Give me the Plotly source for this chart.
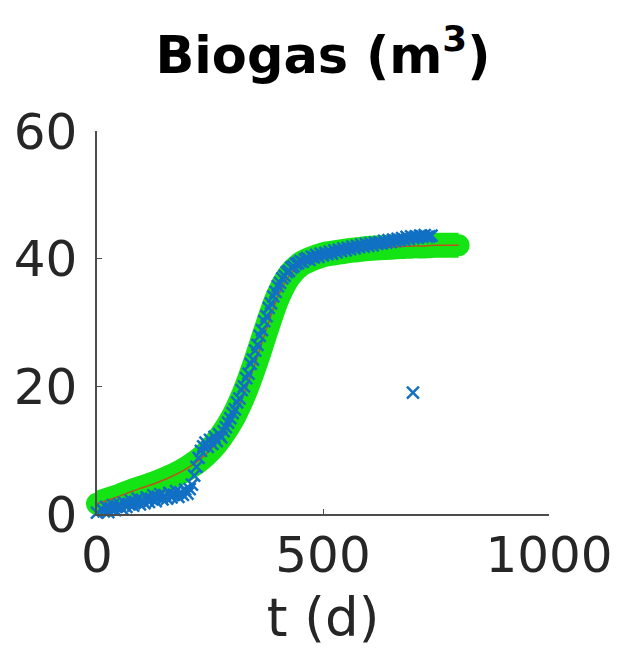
import plotly.graph_objects as go

# ---- data ----
model_t = [0, 25, 50, 75, 100, 125, 150, 175, 200, 225, 250, 275, 300, 325, 350, 375,
           400, 425, 450, 475, 500, 525, 550, 575, 600, 625, 650, 675, 700, 725, 750, 775, 800]
model_y = [1.6, 2.2, 2.8, 3.5, 4.1, 4.7, 5.4, 6.2, 7.2, 8.4, 10.0, 12.2, 15.0, 18.8, 23.6, 29.0,
           34.0, 37.3, 39.1, 40.0, 40.6, 40.9, 41.2, 41.4, 41.6, 41.7, 41.8, 41.9, 42.0, 42.0, 42.1, 42.1, 42.1]

meas_t = list(range(0, 745, 5))
meas_y = [
    0.2, -0.3, 0.8, 0.4, 1.1, 0.3, 0.9, 1.4, 0.6, 1.2,
    1.5, 0.9, 1.8, 1.1, 1.6, 2.1, 1.3, 1.9, 2.4, 1.5,
    2.2, 1.7, 2.6, 1.9, 2.4, 2.9, 2.0, 2.7, 3.1, 2.3,
    2.9, 2.4, 3.3, 2.6, 3.0, 3.6, 2.7, 3.4, 3.0, 3.8,
    3.2, 3.9, 4.6, 6.0, 7.4, 8.8, 9.9, 10.6, 11.2, 10.5,
    11.6, 11.0, 12.1, 11.4, 12.5, 12.0, 13.0, 13.6, 14.3, 15.0,
    15.8, 16.4, 17.5, 18.1, 19.4, 20.0, 21.3, 22.0, 23.5, 24.2,
    25.6, 26.5, 27.9, 28.8, 30.2, 31.0, 32.3, 33.0, 34.1, 34.8,
    35.7, 36.2, 36.9, 37.3, 37.9, 38.1, 38.6, 38.8, 39.2, 39.3,
    39.6, 39.5, 39.9, 40.1, 39.8, 40.3, 40.2, 40.6, 40.3, 40.8,
    40.5, 40.9, 40.7, 41.1, 40.8, 41.3, 41.0, 41.4, 41.2, 41.6,
    41.3, 41.7, 41.5, 41.9, 41.6, 42.0, 41.8, 42.2, 41.9, 42.3,
    42.0, 42.4, 42.1, 42.5, 42.3, 42.6, 42.4, 42.8, 42.5, 42.9,
    42.6, 43.0, 42.8, 43.1, 42.9, 43.2, 43.0, 43.4, 43.1, 43.5,
    43.2, 43.5, 43.3, 43.6, 43.4, 43.7, 43.4, 43.5, 43.6,
]
outlier_t = [699]
outlier_y = [19.0]

x_ticks = [0, 500, 1000]
y_ticks = [0, 20, 40, 60]

GREEN = "#14E414"
RED = "#C0501A"
BLUE = "#1170C4"
AXIS = "#4d4d4d"
TEXT = "#262626"
FONT = "DejaVu Sans"

fig = go.Figure()
fig.add_trace(go.Scatter(
    x=model_t, y=model_y, mode="lines+markers", line=dict(color=GREEN, width=25, shape="spline"),
    marker=dict(color=GREEN, size=22, symbol="circle"), cliponaxis=False,
    showlegend=False, hoverinfo="skip"))
fig.add_trace(go.Scatter(
    x=model_t, y=model_y, mode="lines", line=dict(color=RED, width=1.5, shape="spline"),
    showlegend=False))
fig.add_trace(go.Scatter(
    x=meas_t + outlier_t, y=meas_y + outlier_y, mode="markers", cliponaxis=False,
    marker=dict(symbol="x-thin-open", size=12, color=BLUE, line=dict(color=BLUE, width=2.5)),
    showlegend=False))

fig.update_layout(
    width=624, height=661,
    margin=dict(l=97, r=75, t=131, b=147),
    paper_bgcolor="white", plot_bgcolor="white",
    font=dict(family=FONT, color=TEXT),
    title=dict(text="<b>Biogas (m<sup>3</sup>)</b>", x=0.5, xref="paper", xanchor="center",
               y=1 - 55 / 661, yref="container", yanchor="middle",
               font=dict(family=FONT, size=51, color="black")),
)
fig.update_xaxes(
    range=[0, 1000], tickvals=x_ticks, ticktext=[str(v) for v in x_ticks],
    showline=True, linecolor=AXIS, linewidth=1.5, ticks="inside", ticklen=5, tickcolor=AXIS,
    showgrid=False, zeroline=False, tickfont=dict(family=FONT, size=50, color=TEXT),
    ticklabelstandoff=-4,
    title=dict(text="t (d)", font=dict(family=FONT, size=53, color=TEXT), standoff=16))
fig.update_yaxes(
    range=[0, 60], tickvals=y_ticks, ticktext=[str(v) for v in y_ticks],
    showline=True, linecolor=AXIS, linewidth=1.5, ticks="inside", ticklen=5, tickcolor=AXIS,
    showgrid=False, zeroline=False, tickfont=dict(family=FONT, size=50, color=TEXT),
    ticklabelstandoff=8)

fig.write_html("out.html")
